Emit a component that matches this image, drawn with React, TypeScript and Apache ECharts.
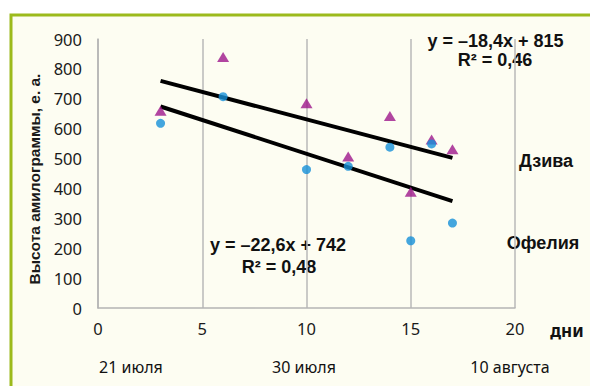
import React, { useEffect, useRef } from "react";
import * as echarts from "echarts";

const days = [3, 6, 10, 12, 14, 15, 16, 17];
const dzivaValues = [660, 840, 685, 507, 642, 389, 564, 531];
const ofeliaValues = [618, 707, 463, 474, 538, 225, 549, 284];
const dzivaTrend = { slope: -18.4, intercept: 815, r2: "0,46" };
const ofeliaTrend = { slope: -22.6, intercept: 742, r2: "0,48" };
const trendRange = [3, 17];
const dateLabels = ["21 июля", "30 июля", "10 августа"];
const dateLabelDays = [1.58, 9.88, 19.76];
const yAxisTitle = "Высота амилограммы, е. а.";
const xAxisTitle = "дни";

const trendPoints = (t: { slope: number; intercept: number }) =>
  trendRange.map((x) => [x, t.intercept + t.slope * x]);

export default function App() {
  const ref = useRef<HTMLDivElement>(null);
  useEffect(() => {
    if (!ref.current) return;
    const chart = echarts.init(ref.current, null, { renderer: "svg" });
    const gridLeft = 98, gridRight = 75, gridTop = 39, gridBottom = 78;
    const plotW = 590 - gridLeft - gridRight;
    const dayToPx = (d: number) => gridLeft + (d / 20) * plotW;
    const labelFont = "'Noto Sans', 'Open Sans', sans-serif";
    const boldFont = "'Liberation Sans', Arial, sans-serif";
    const eqFont = `bold 18px ${boldFont}`;
    const txt = (text: string, x: number, y: number, font: string) => ({
      type: "text",
      x,
      y,
      style: { text, font, fill: "#111", align: "center", verticalAlign: "middle" },
    });
    chart.setOption({
      animation: false,
      backgroundColor: "#ffffff",
      grid: { left: gridLeft, right: gridRight, top: gridTop, bottom: gridBottom },
      xAxis: {
        type: "value",
        min: 0,
        max: 20,
        interval: 5,
        axisLine: { show: true, lineStyle: { color: "#b4b4b4", width: 1.5 } },
        axisTick: { show: false },
        splitLine: { show: true, lineStyle: { color: "#b8b8b8", width: 1.5 } },
        axisLabel: { color: "#1a1a1a", fontSize: 16.5, fontFamily: labelFont, margin: 12 },
      },
      yAxis: {
        type: "value",
        min: 0,
        max: 900,
        interval: 100,
        axisLine: { show: true, lineStyle: { color: "#b4b4b4", width: 1.5 } },
        axisTick: { show: false },
        splitLine: { show: false },
        axisLabel: { color: "#1a1a1a", fontSize: 16.5, fontFamily: labelFont, margin: 16 },
      },
      graphic: [
        {
          type: "rect",
          z: -10,
          silent: true,
          shape: { x: 11, y: 15, width: 620, height: 420 },
          style: { fill: "#fdfdf2", stroke: "#9cba1c", lineWidth: 3 },
        },
        {
          type: "text",
          x: 34,
          y: 179,
          rotation: Math.PI / 2,
          style: {
            text: yAxisTitle,
            font: `bold 15.5px ${boldFont}`,
            fill: "#1a1a1a",
            align: "center",
            verticalAlign: "middle",
          },
        },
        txt(xAxisTitle, 567, 330, `bold 17px ${labelFont}`),
        ...dateLabels.map((t, i) => txt(t, dayToPx(dateLabelDays[i]), 367, `16px ${labelFont}`)),
        txt(
          `y = –${Math.abs(dzivaTrend.slope).toString().replace(".", ",")}x + ${dzivaTrend.intercept}`,
          495.5,
          41,
          eqFont
        ),
        txt(`R² = ${dzivaTrend.r2}`, 495, 60, eqFont),
        txt(
          `y = –${Math.abs(ofeliaTrend.slope).toString().replace(".", ",")}x + ${ofeliaTrend.intercept}`,
          278,
          245,
          eqFont
        ),
        txt(`R² = ${ofeliaTrend.r2}`, 279, 267, eqFont),
        txt("Дзива", 546, 161, eqFont),
        txt("Офелия", 543, 243, eqFont),
      ],
      series: [
        {
          name: "Дзива тренд",
          type: "line",
          data: trendPoints(dzivaTrend),
          symbol: "none",
          lineStyle: { color: "#000", width: 4 },
          z: 2,
        },
        {
          name: "Офелия тренд",
          type: "line",
          data: trendPoints(ofeliaTrend),
          symbol: "none",
          lineStyle: { color: "#000", width: 4 },
          z: 2,
        },
        {
          name: "Дзива",
          type: "scatter",
          data: days.map((d, i) => [d, dzivaValues[i]]),
          symbol: "triangle",
          symbolSize: [12, 10],
          itemStyle: { color: "#9e168b" },
          z: 3,
        },
        {
          name: "Офелия",
          type: "scatter",
          data: days.map((d, i) => [d, ofeliaValues[i]]),
          symbol: "circle",
          symbolSize: 9,
          itemStyle: { color: "#1590d8" },
          z: 4,
        },
      ],
    });
    return () => chart.dispose();
  }, []);
  return (
    <div
      ref={ref}
      style={{ position: "fixed", left: 0, top: 0, width: 590, height: 386 }}
    />
  );
}
